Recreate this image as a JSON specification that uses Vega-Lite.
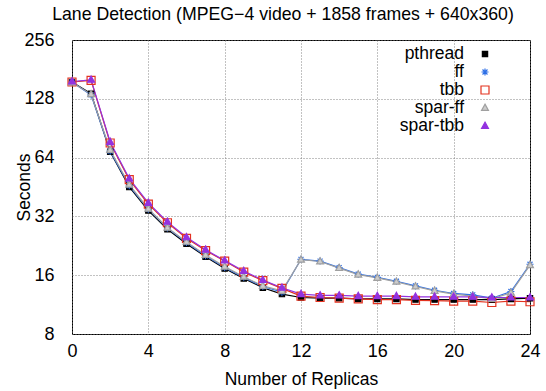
{
  "$schema": "https://vega.github.io/schema/vega-lite/v6.json",
  "width": 458,
  "height": 294,
  "autosize": "none",
  "padding": {"left": 72, "top": 40, "right": 16, "bottom": 57},
  "title": {
    "text": "Lane Detection (MPEG−4 video + 1858 frames + 640x360)",
    "font": "Liberation Sans",
    "fontSize": 17.7,
    "fontWeight": "normal",
    "color": "#000000",
    "anchor": "middle",
    "dx": -18,
    "offset": 7
  },
  "config": {
    "font": "Liberation Sans",
    "view": {"stroke": "#000000", "strokeWidth": 1},
    "axis": {
      "domain": false,
      "ticks": false,
      "grid": true,
      "gridColor": "#777777",
      "gridDash": [1, 2],
      "gridWidth": 0.9,
      "labelFont": "Liberation Sans",
      "labelFontSize": 18,
      "labelColor": "#000000",
      "labelFlush": false,
      "titleFont": "Liberation Sans",
      "titleFontSize": 17.5,
      "titleFontWeight": "normal",
      "titleColor": "#000000"
    }
  },
  "data": {
    "values": [
      {"series": "pthread", "replicas": 0, "seconds": 156},
      {"series": "pthread", "replicas": 1, "seconds": 136},
      {"series": "pthread", "replicas": 2, "seconds": 68.6},
      {"series": "pthread", "replicas": 3, "seconds": 45.3},
      {"series": "pthread", "replicas": 4, "seconds": 34.3},
      {"series": "pthread", "replicas": 5, "seconds": 27.5},
      {"series": "pthread", "replicas": 6, "seconds": 23.2},
      {"series": "pthread", "replicas": 7, "seconds": 19.9},
      {"series": "pthread", "replicas": 8, "seconds": 17.3},
      {"series": "pthread", "replicas": 9, "seconds": 15.4},
      {"series": "pthread", "replicas": 10, "seconds": 13.8},
      {"series": "pthread", "replicas": 11, "seconds": 12.8},
      {"series": "pthread", "replicas": 12, "seconds": 12.3},
      {"series": "pthread", "replicas": 13, "seconds": 12.2},
      {"series": "pthread", "replicas": 14, "seconds": 12.2},
      {"series": "pthread", "replicas": 15, "seconds": 12.1},
      {"series": "pthread", "replicas": 16, "seconds": 12.1},
      {"series": "pthread", "replicas": 17, "seconds": 12.1},
      {"series": "pthread", "replicas": 18, "seconds": 12.0},
      {"series": "pthread", "replicas": 19, "seconds": 12.0},
      {"series": "pthread", "replicas": 20, "seconds": 12.0},
      {"series": "pthread", "replicas": 21, "seconds": 12.0},
      {"series": "pthread", "replicas": 22, "seconds": 12.0},
      {"series": "pthread", "replicas": 23, "seconds": 12.1},
      {"series": "pthread", "replicas": 24, "seconds": 12.2},
      {"series": "ff", "replicas": 0, "seconds": 156},
      {"series": "ff", "replicas": 1, "seconds": 134},
      {"series": "ff", "replicas": 2, "seconds": 69},
      {"series": "ff", "replicas": 3, "seconds": 46},
      {"series": "ff", "replicas": 4, "seconds": 34.8},
      {"series": "ff", "replicas": 5, "seconds": 27.9},
      {"series": "ff", "replicas": 6, "seconds": 23.5},
      {"series": "ff", "replicas": 7, "seconds": 20.1},
      {"series": "ff", "replicas": 8, "seconds": 17.5},
      {"series": "ff", "replicas": 9, "seconds": 15.6},
      {"series": "ff", "replicas": 10, "seconds": 14.0},
      {"series": "ff", "replicas": 11, "seconds": 13.1},
      {"series": "ff", "replicas": 12, "seconds": 19.3},
      {"series": "ff", "replicas": 13, "seconds": 18.9},
      {"series": "ff", "replicas": 14, "seconds": 17.5},
      {"series": "ff", "replicas": 15, "seconds": 16.2},
      {"series": "ff", "replicas": 16, "seconds": 15.6},
      {"series": "ff", "replicas": 17, "seconds": 14.9},
      {"series": "ff", "replicas": 18, "seconds": 14.1},
      {"series": "ff", "replicas": 19, "seconds": 13.4},
      {"series": "ff", "replicas": 20, "seconds": 12.9},
      {"series": "ff", "replicas": 21, "seconds": 12.7},
      {"series": "ff", "replicas": 22, "seconds": 12.2},
      {"series": "ff", "replicas": 23, "seconds": 13.2},
      {"series": "ff", "replicas": 24, "seconds": 18.2},
      {"series": "tbb", "replicas": 0, "seconds": 156},
      {"series": "tbb", "replicas": 1, "seconds": 159},
      {"series": "tbb", "replicas": 2, "seconds": 76},
      {"series": "tbb", "replicas": 3, "seconds": 49.4},
      {"series": "tbb", "replicas": 4, "seconds": 37},
      {"series": "tbb", "replicas": 5, "seconds": 29.7},
      {"series": "tbb", "replicas": 6, "seconds": 24.7},
      {"series": "tbb", "replicas": 7, "seconds": 21.4},
      {"series": "tbb", "replicas": 8, "seconds": 18.9},
      {"series": "tbb", "replicas": 9, "seconds": 16.6},
      {"series": "tbb", "replicas": 10, "seconds": 15.0},
      {"series": "tbb", "replicas": 11, "seconds": 13.7},
      {"series": "tbb", "replicas": 12, "seconds": 12.5},
      {"series": "tbb", "replicas": 13, "seconds": 12.3},
      {"series": "tbb", "replicas": 14, "seconds": 12.2},
      {"series": "tbb", "replicas": 15, "seconds": 12.1},
      {"series": "tbb", "replicas": 16, "seconds": 12.0},
      {"series": "tbb", "replicas": 17, "seconds": 12.0},
      {"series": "tbb", "replicas": 18, "seconds": 11.9},
      {"series": "tbb", "replicas": 19, "seconds": 11.85},
      {"series": "tbb", "replicas": 20, "seconds": 11.8},
      {"series": "tbb", "replicas": 21, "seconds": 11.8},
      {"series": "tbb", "replicas": 22, "seconds": 11.6},
      {"series": "tbb", "replicas": 23, "seconds": 11.8},
      {"series": "tbb", "replicas": 24, "seconds": 11.7},
      {"series": "spar-ff", "replicas": 0, "seconds": 155},
      {"series": "spar-ff", "replicas": 1, "seconds": 135},
      {"series": "spar-ff", "replicas": 2, "seconds": 70},
      {"series": "spar-ff", "replicas": 3, "seconds": 46.5},
      {"series": "spar-ff", "replicas": 4, "seconds": 35},
      {"series": "spar-ff", "replicas": 5, "seconds": 28},
      {"series": "spar-ff", "replicas": 6, "seconds": 23.7},
      {"series": "spar-ff", "replicas": 7, "seconds": 20.3},
      {"series": "spar-ff", "replicas": 8, "seconds": 17.7},
      {"series": "spar-ff", "replicas": 9, "seconds": 15.7},
      {"series": "spar-ff", "replicas": 10, "seconds": 14.1},
      {"series": "spar-ff", "replicas": 11, "seconds": 13.3},
      {"series": "spar-ff", "replicas": 12, "seconds": 19.2},
      {"series": "spar-ff", "replicas": 13, "seconds": 18.8},
      {"series": "spar-ff", "replicas": 14, "seconds": 17.4},
      {"series": "spar-ff", "replicas": 15, "seconds": 16.1},
      {"series": "spar-ff", "replicas": 16, "seconds": 15.5},
      {"series": "spar-ff", "replicas": 17, "seconds": 14.8},
      {"series": "spar-ff", "replicas": 18, "seconds": 14.0},
      {"series": "spar-ff", "replicas": 19, "seconds": 13.3},
      {"series": "spar-ff", "replicas": 20, "seconds": 12.8},
      {"series": "spar-ff", "replicas": 21, "seconds": 12.5},
      {"series": "spar-ff", "replicas": 22, "seconds": 12.1},
      {"series": "spar-ff", "replicas": 23, "seconds": 13.0},
      {"series": "spar-ff", "replicas": 24, "seconds": 18.0},
      {"series": "spar-tbb", "replicas": 0, "seconds": 157},
      {"series": "spar-tbb", "replicas": 1, "seconds": 160},
      {"series": "spar-tbb", "replicas": 2, "seconds": 77},
      {"series": "spar-tbb", "replicas": 3, "seconds": 50},
      {"series": "spar-tbb", "replicas": 4, "seconds": 37.5},
      {"series": "spar-tbb", "replicas": 5, "seconds": 30.0},
      {"series": "spar-tbb", "replicas": 6, "seconds": 25.0},
      {"series": "spar-tbb", "replicas": 7, "seconds": 21.6},
      {"series": "spar-tbb", "replicas": 8, "seconds": 19.0},
      {"series": "spar-tbb", "replicas": 9, "seconds": 16.8},
      {"series": "spar-tbb", "replicas": 10, "seconds": 15.1},
      {"series": "spar-tbb", "replicas": 11, "seconds": 13.8},
      {"series": "spar-tbb", "replicas": 12, "seconds": 12.8},
      {"series": "spar-tbb", "replicas": 13, "seconds": 12.6},
      {"series": "spar-tbb", "replicas": 14, "seconds": 12.6},
      {"series": "spar-tbb", "replicas": 15, "seconds": 12.5},
      {"series": "spar-tbb", "replicas": 16, "seconds": 12.5},
      {"series": "spar-tbb", "replicas": 17, "seconds": 12.5},
      {"series": "spar-tbb", "replicas": 18, "seconds": 12.4},
      {"series": "spar-tbb", "replicas": 19, "seconds": 12.4},
      {"series": "spar-tbb", "replicas": 20, "seconds": 12.4},
      {"series": "spar-tbb", "replicas": 21, "seconds": 12.4},
      {"series": "spar-tbb", "replicas": 22, "seconds": 12.3},
      {"series": "spar-tbb", "replicas": 23, "seconds": 12.3},
      {"series": "spar-tbb", "replicas": 24, "seconds": 12.3}
    ]
  },
  "encoding": {
    "x": {
      "field": "replicas",
      "type": "quantitative",
      "scale": {"domain": [0, 24], "nice": false, "zero": false},
      "axis": {"values": [0, 4, 8, 12, 16, 20, 24], "title": "Number of Replicas", "labelPadding": 8, "titlePadding": 10}
    },
    "y": {
      "field": "seconds",
      "type": "quantitative",
      "scale": {"type": "log", "base": 2, "domain": [8, 256], "nice": false},
      "axis": {"values": [8, 16, 32, 64, 128, 256], "title": "Seconds", "labelPadding": 18, "titleX": -39}
    }
  },
  "layer": [
    {
      "mark": {"type": "line", "strokeWidth": 1.2},
      "encoding": {
        "color": {
          "field": "series",
          "type": "nominal",
          "scale": {
            "domain": ["pthread", "ff", "tbb", "spar-ff", "spar-tbb"],
            "range": ["#000000", "#2d6fe6", "#e3321f", "#a0a0a0", "#9332e0"]
          },
          "legend": {
            "title": null,
            "orient": "none",
            "legendX": 390,
            "legendY": 5,
            "padding": 0,
            "labelAlign": "right",
            "labelOffset": -30,
            "symbolOffset": 14,
            "labelFont": "Liberation Sans",
            "labelFontSize": 17.5,
            "labelColor": "#000000",
            "labelLimit": 0,
            "symbolType": "M-2.875,0H2.875",
            "symbolSize": 256,
            "symbolStrokeWidth": 1.2,
            "symbolOpacity": 1,
            "rowPadding": 0
          }
        }
      }
    },
    {
      "mark": {"type": "point", "size": 256, "strokeWidth": 1.2, "opacity": 1},
      "encoding": {
        "stroke": {
          "field": "series",
          "type": "nominal",
          "scale": {
            "domain": ["pthread", "ff", "tbb", "spar-ff", "spar-tbb"],
            "range": ["#000000", "#2d6fe6", "#e3321f", "#a0a0a0", "#9332e0"]
          },
          "legend": null
        },
        "fill": {
          "field": "series",
          "type": "nominal",
          "scale": {
            "domain": ["pthread", "ff", "tbb", "spar-ff", "spar-tbb"],
            "range": ["#000000", "transparent", "transparent", "#cccccc", "#9332e0"]
          },
          "legend": null
        },
        "shape": {
          "field": "series",
          "type": "nominal",
          "scale": {
            "domain": ["pthread", "ff", "tbb", "spar-ff", "spar-tbb"],
            "range": [
              "M-0.33,-0.33H0.33V0.33H-0.33Z",
              "M-0.44,0H0.44M0,-0.44V0.44M-0.31,-0.31L0.31,0.31M-0.31,0.31L0.31,-0.31",
              "M-0.5,-0.5H0.5V0.5H-0.5Z",
              "M0,-0.48L0.43,0.3H-0.43Z",
              "M0,-0.48L0.43,0.3H-0.43Z"
            ]
          },
          "legend": null
        }
      }
    }
  ]
}
